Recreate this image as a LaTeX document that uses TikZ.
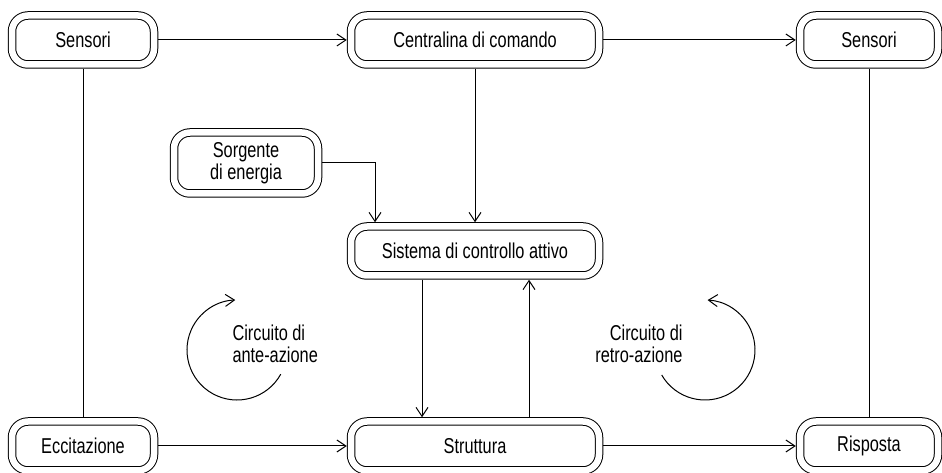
\documentclass[tikz,border=0pt]{standalone}
\usepackage{fontspec}
\setmainfont[FakeStretch=0.76]{Liberation Sans}
\usetikzlibrary{arrows.meta}

\begin{document}
\begin{tikzpicture}[x=1pt,y=1pt,line width=1pt,
  box/.style={draw,double,double distance=6.5pt,rounded corners=16pt,
    minimum width=142pt,minimum height=49pt,outer sep=4.25pt,inner sep=2pt,
    align=center,font=\fontsize{21.5}{22}\selectfont},
  widebox/.style={box,minimum width=248pt},
  arr/.style={-{Straight Barb[length=9pt,width=12pt]}},
  loop/.style={inner sep=0pt,font=\fontsize{21.5}{22}\selectfont}]
\useasboundingbox (0,0) rectangle (942,473);
% top row
\node[box] (sensL) at (83,433) {Sensori};
\node[widebox] (centr) at (475,433) {Centralina di comando};
\node[box,minimum width=138pt] (sensR) at (869,433) {Sensori};
% middle
\node[box,minimum width=144pt,minimum height=61pt] (sorg) at (246,310) {Sorgente\\di energia};
\node[widebox] (sist) at (475,222) {Sistema di controllo attivo};
% bottom row
\node[box] (ecc) at (83,27) {Eccitazione};
\node[widebox] (strut) at (475,27) {Struttura};
\node[box,minimum width=138pt] (risp) at (869,27) {Risposta};
% connectors
\draw[arr] (sensL) -- (centr);
\draw[arr] (centr) -- (sensR);
\draw (sensL) -- (ecc);
\draw (sensR) -- (risp);
\draw[arr] (centr) -- (sist);
\draw[arr] (sorg.east) -| ([xshift=-100pt]sist.north);
\draw[arr] ([xshift=-53pt]sist.south) -- ([xshift=-53pt]strut.north);
\draw[arr] ([xshift=54pt]strut.north) -- ([xshift=54pt]sist.south);
\draw[arr] (ecc) -- (strut);
\draw[arr] (strut) -- (risp);
% loops
\node[loop,anchor=west,align=left] (ante) at (232,129) {Circuito di\\ante-azione};
\draw[arr] (237,123) ++(-29:50) arc[start angle=-29,end angle=-268,radius=50];
\node[loop,anchor=east,align=right] (retro) at (683,129) {Circuito di\\retro-azione};
\draw[arr] (705,123) ++(210:50) arc[start angle=210,end angle=447,radius=50];
\end{tikzpicture}
\end{document}
